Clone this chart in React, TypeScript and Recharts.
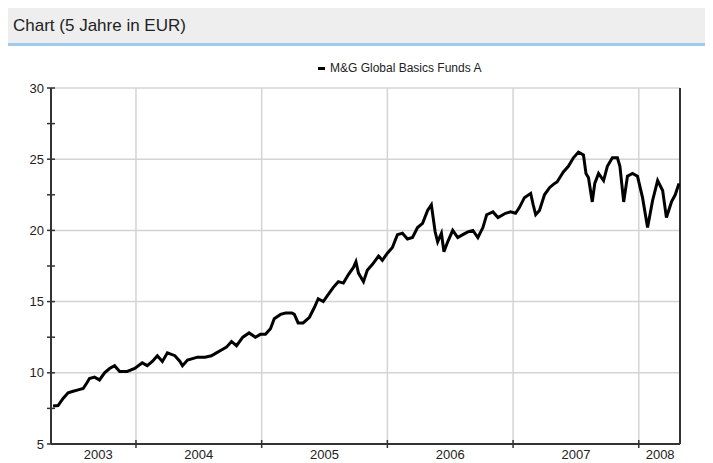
import { LineChart, Line, XAxis, YAxis, ReferenceLine } from 'recharts';

// time in decimal years, values in EUR
const times = [
  2003.34, 2003.38, 2003.42, 2003.46, 2003.5, 2003.54, 2003.58, 2003.61, 2003.63, 2003.67,
  2003.71, 2003.75, 2003.79, 2003.83, 2003.87, 2003.93, 2003.99, 2004.05, 2004.09, 2004.13,
  2004.17, 2004.21, 2004.25, 2004.31, 2004.35, 2004.37, 2004.41, 2004.49, 2004.55, 2004.6,
  2004.64, 2004.68, 2004.72, 2004.76, 2004.8, 2004.85, 2004.9, 2004.95, 2004.99, 2005.03,
  2005.07, 2005.1, 2005.15, 2005.19, 2005.24, 2005.26, 2005.29, 2005.33, 2005.38, 2005.42,
  2005.45, 2005.49, 2005.53, 2005.57, 2005.61, 2005.65, 2005.69, 2005.73, 2005.75, 2005.77,
  2005.81, 2005.84, 2005.88, 2005.93, 2005.96, 2006.0, 2006.04, 2006.08, 2006.12, 2006.16,
  2006.2, 2006.24, 2006.28, 2006.32, 2006.35, 2006.38, 2006.4, 2006.43, 2006.45, 2006.48,
  2006.52, 2006.56, 2006.6, 2006.64, 2006.68, 2006.72, 2006.76, 2006.79, 2006.84, 2006.88,
  2006.94, 2006.98, 2007.02, 2007.05, 2007.09, 2007.14, 2007.16, 2007.18, 2007.21, 2007.25,
  2007.29, 2007.33, 2007.35, 2007.4, 2007.44, 2007.48, 2007.52, 2007.56, 2007.58, 2007.6,
  2007.63, 2007.65, 2007.68, 2007.72, 2007.75, 2007.79, 2007.83, 2007.85, 2007.88, 2007.91,
  2007.95, 2007.99, 2008.03, 2008.07, 2008.11, 2008.15, 2008.19, 2008.22, 2008.26, 2008.29,
  2008.32,
];

const prices = [
  7.67, 7.7, 8.2, 8.6, 8.7, 8.8, 8.9, 9.3, 9.6, 9.7,
  9.5, 10.0, 10.3, 10.5, 10.1, 10.1, 10.3, 10.7, 10.5, 10.8,
  11.2, 10.8, 11.4, 11.2, 10.8, 10.5, 10.9, 11.1, 11.1, 11.2,
  11.4, 11.6, 11.8, 12.2, 11.9, 12.5, 12.8, 12.5, 12.7, 12.7,
  13.1, 13.8, 14.1, 14.2, 14.2, 14.1, 13.5, 13.5, 13.9, 14.6,
  15.2, 15.0, 15.5, 16.0, 16.4, 16.3, 16.9, 17.4, 17.8, 17.0,
  16.4, 17.2, 17.6, 18.2, 17.9, 18.4, 18.8, 19.7, 19.8, 19.4,
  19.5, 20.2, 20.5, 21.4, 21.8, 19.9, 19.2, 19.8, 18.5, 19.2,
  20.0, 19.5, 19.7, 19.9, 20.0, 19.5, 20.2, 21.1, 21.3, 20.9,
  21.2, 21.3, 21.2, 21.6, 22.3, 22.6, 21.8, 21.1, 21.4, 22.5,
  23.0, 23.3, 23.4, 24.1, 24.5, 25.1, 25.5, 25.3, 24.0, 23.7,
  22.0, 23.3, 24.0, 23.5, 24.5, 25.1, 25.1, 24.5, 22.0, 23.8,
  24.0, 23.8, 22.3, 20.2, 22.1, 23.5, 22.8, 20.9, 22.0, 22.5,
  23.3,
];

const seriesName = 'M&G Global Basics Funds A';
const xDomain = [2003.324, 2008.328];
const yearBoundaries = [2004, 2005, 2006, 2007, 2008];
const yearLabelPositions = [2003.7, 2004.5, 2005.5, 2006.5, 2007.5, 2008.17];
const yearLabels = ['2003', '2004', '2005', '2006', '2007', '2008'];
const yTicks = [5, 7.5, 10, 12.5, 15, 17.5, 20, 22.5, 25, 27.5, 30];
const yGrid = [10, 15, 20, 25, 30];

const data = times.map((t, i) => ({ t, price: prices[i] }));

const FONT = '"Liberation Sans", Arial, sans-serif';
const AXIS = '#333333';

const XTick = ({ x, y, payload }: any) => {
  const i = yearLabelPositions.indexOf(payload.value);
  if (i >= 0) {
    return (
      <text x={x} y={y + 6} dy="0.71em" textAnchor="middle" fontSize={13} fontFamily={FONT} fill="#222">
        {yearLabels[i]}
      </text>
    );
  }
  return <line x1={x} x2={x} y1={y - 4} y2={y + 4} stroke={AXIS} strokeWidth={1.5} />;
};

const YTick = ({ x, y, payload }: any) => {
  const major = payload.value % 5 === 0;
  return (
    <g>
      <line x1={x - 4} x2={x + 4} y1={y} y2={y} stroke={AXIS} strokeWidth={1.5} />
      {major && (
        <text x={x - 7} y={y} dy="0.36em" textAnchor="end" fontSize={13} fontFamily={FONT} fill="#222">
          {payload.value}
        </text>
      )}
    </g>
  );
};

export default function App() {
  return (
    <div style={{ width: 705, fontFamily: FONT }}>
      <div
        style={{
          height: 35,
          lineHeight: '35px',
          background: '#eeeeee',
          borderBottom: '3px solid #9dcbef',
          paddingLeft: 5,
          fontSize: 17,
          color: '#222',
        }}
      >
        Chart (5 Jahre in EUR)
      </div>
      <div style={{ position: 'relative', width: 705, height: 417 }}>
        <div
          style={{
            position: 'absolute',
            top: 15,
            left: 310,
            fontSize: 12,
            color: '#222',
            display: 'flex',
            alignItems: 'center',
            whiteSpace: 'nowrap',
          }}
        >
          <span style={{ display: 'inline-block', width: 7, height: 3, background: '#000', marginRight: 5 }} />
          {seriesName}
        </div>
        <LineChart width={705} height={417} data={data} margin={{ top: 42, right: 33, left: 3, bottom: 0 }}>
          <XAxis
            dataKey="t"
            type="number"
            domain={xDomain}
            ticks={[...yearBoundaries, ...yearLabelPositions].sort((a, b) => a - b)}
            interval={0}
            height={19}
            tickSize={0}
            tickMargin={0}
            tickLine={false}
            tick={<XTick />}
            axisLine={{ stroke: AXIS, strokeWidth: 2 }}
            allowDataOverflow
          />
          <YAxis
            type="number"
            domain={[5, 30]}
            ticks={yTicks}
            interval={0}
            width={40}
            tickSize={0}
            tickMargin={0}
            tickLine={false}
            tick={<YTick />}
            axisLine={{ stroke: AXIS, strokeWidth: 2 }}
            allowDataOverflow
          />
          {yGrid.map((v) => (
            <ReferenceLine key={'h' + v} y={v} stroke="#d4d4d4" strokeWidth={1.5} />
          ))}
          {yearBoundaries.map((v) => (
            <ReferenceLine key={'v' + v} x={v} stroke="#d4d4d4" strokeWidth={1.5} />
          ))}
          <ReferenceLine x={xDomain[1]} stroke={AXIS} strokeWidth={2} />
          <Line
            dataKey="price"
            name={seriesName}
            type="linear"
            stroke="#000"
            strokeWidth={3}
            dot={false}
            isAnimationActive={false}
          />
        </LineChart>
      </div>
    </div>
  );
}
